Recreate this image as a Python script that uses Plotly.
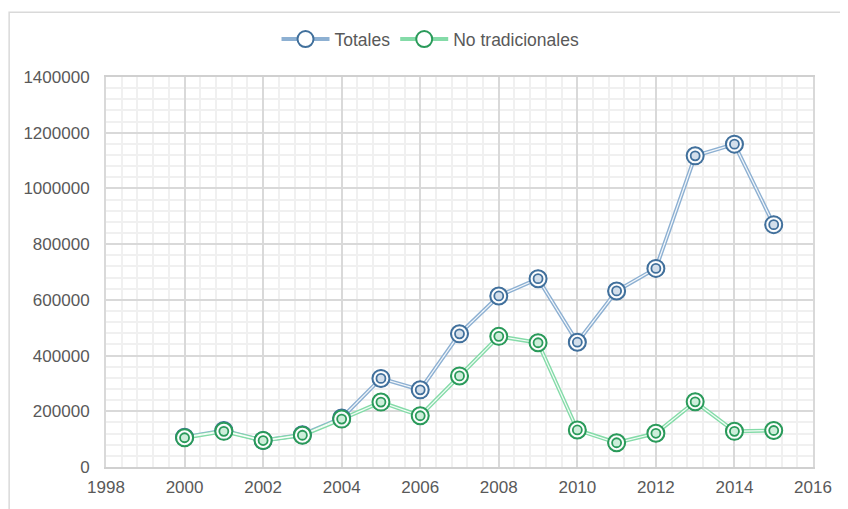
import plotly.graph_objects as go

years = list(range(2000, 2016))
totales = [107000, 131000, 95000, 116000, 176000, 318000, 277000, 478000,
           614000, 676000, 448000, 632000, 713000, 1117000, 1159000, 870000]
no_trad = [105000, 128000, 95000, 114000, 172000, 233000, 184000, 327000,
           469000, 446000, 133000, 87000, 121000, 234000, 128000, 131000]
series_names = ["Totales", "No tradicionales"]
x_ticks = list(range(1998, 2017, 2))
y_ticks = list(range(0, 1400001, 200000))

styles = {
    "Totales": dict(ring="#41709C", line="#8DB0D2", fill="#D3DFEB"),
    "No tradicionales": dict(ring="#2A9A5A", line="#84DBA8", fill="#CDEEDA"),
}
data = {"Totales": totales, "No tradicionales": no_trad}

fig = go.Figure()

# thick coloured lines (legend entries)
for name in series_names:
    s = styles[name]
    fig.add_trace(go.Scatter(
        x=years, y=data[name], name=name, mode="lines+markers",
        line=dict(color=s["line"], width=4),
        marker=dict(symbol="circle", size=16, color="white",
                    line=dict(color=s["ring"], width=2)),
        legendgroup=name, showlegend=True, hoverinfo="skip"))
# white inner line -> double line effect
for name in series_names:
    fig.add_trace(go.Scatter(
        x=years, y=data[name], mode="lines",
        line=dict(color="rgba(255,255,255,0.9)", width=1.2),
        legendgroup=name, showlegend=False, hoverinfo="skip"))
# markers: outer ring + inner ring
for name in series_names:
    s = styles[name]
    fig.add_trace(go.Scatter(
        x=years, y=data[name], mode="markers",
        marker=dict(symbol="circle", size=17, color="rgba(255,255,255,0.9)",
                    line=dict(color=s["ring"], width=2)),
        legendgroup=name, showlegend=False, hoverinfo="skip"))
    fig.add_trace(go.Scatter(
        x=years, y=data[name], mode="markers",
        marker=dict(symbol="circle", size=9, color=s["fill"],
                    line=dict(color=s["ring"], width=1.8)),
        legendgroup=name, showlegend=False, hoverinfo="skip"))

font_family = "Liberation Sans, Arial, sans-serif"
tick_col = "#595959"

fig.update_layout(
    width=840, height=501,
    margin=dict(l=98, r=35, t=69, b=32),
    paper_bgcolor="white", plot_bgcolor="white",
    font=dict(family=font_family, size=17, color=tick_col),
    showlegend=True,
    legend=dict(orientation="h", x=0.459, xanchor="center", y=1.097,
                yanchor="middle", font=dict(size=17.5, color=tick_col),
                itemwidth=48, bgcolor="rgba(0,0,0,0)"),
    shapes=[dict(type="rect", xref="paper", yref="paper",
                 x0=-0.137, x1=1.2, y0=-0.3, y1=1.166,
                 line=dict(color="#D9D9D9", width=1.5), layer="below")],
)

fig.update_xaxes(
    range=[1998, 2016], tickvals=x_ticks, ticktext=[str(v) for v in x_ticks],
    showgrid=True, gridcolor="#D9D9D9", gridwidth=2,
    minor=dict(dtick=0.4, tick0=1998, showgrid=True, gridcolor="#F0F0F0", gridwidth=2),
    showline=True, linecolor="#D0D0D0", linewidth=2, mirror=True,
    zeroline=False, ticks="", ticklabelstandoff=4,
    tickfont=dict(size=17, color=tick_col),
)
fig.update_yaxes(
    range=[0, 1400000], tickvals=y_ticks, ticktext=[str(v) for v in y_ticks],
    showgrid=True, gridcolor="#D9D9D9", gridwidth=2,
    minor=dict(dtick=40000, tick0=0, showgrid=True, gridcolor="#F0F0F0", gridwidth=2),
    showline=True, linecolor="#D9D9D9", linewidth=2, mirror=True,
    zeroline=False, ticks="", ticklabelstandoff=11,
    tickfont=dict(size=17, color=tick_col),
)

fig.write_html("out.html")
